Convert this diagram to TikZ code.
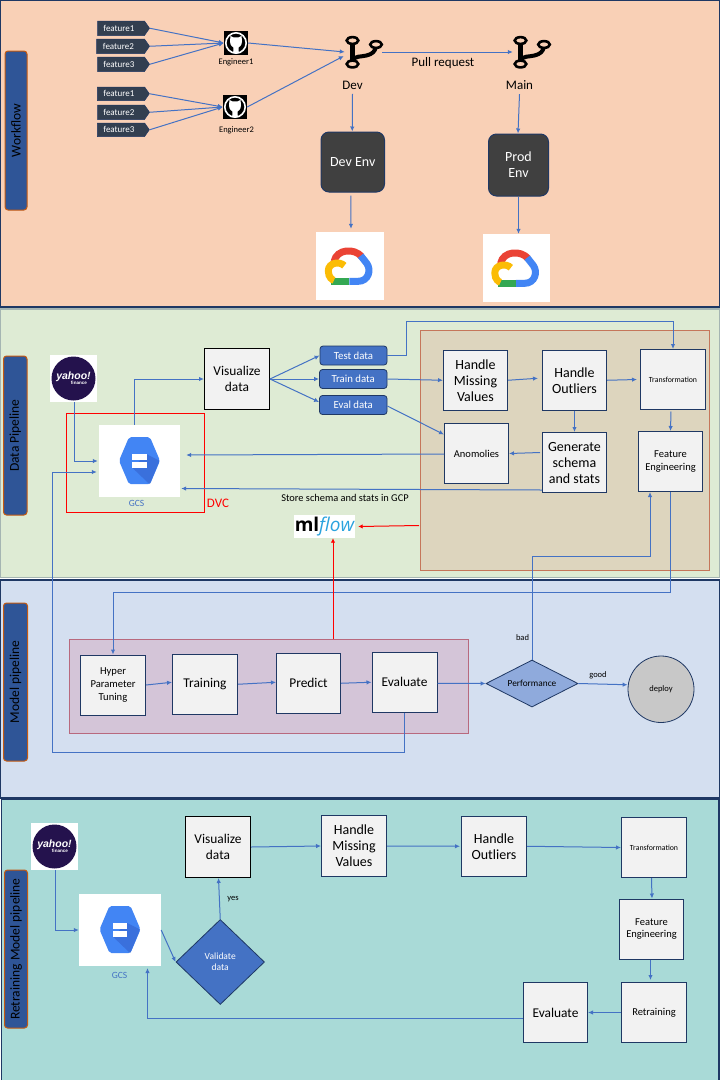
\documentclass[tikz,border=0pt]{standalone}
\usepackage{fontspec}
\setmainfont{Carlito}
\newfontfamily\ylogo{Liberation Sans}
\newfontfamily\mlfont{Open Sans}
\usetikzlibrary{arrows.meta,shapes.geometric,shapes.symbols}
\definecolor{navy}{HTML}{1F3864}
\definecolor{bandA}{HTML}{F9D0B6}
\definecolor{bandB}{HTML}{DEEBD4}
\definecolor{bandC}{HTML}{D4DFF0}
\definecolor{bandD}{HTML}{A9DAD7}
\definecolor{conc}{HTML}{4472C4}
\definecolor{sidef}{HTML}{2F5597}
\definecolor{sided}{HTML}{C55A11}
\definecolor{tagc}{HTML}{333F50}
\definecolor{dark}{HTML}{404040}
\definecolor{procf}{HTML}{F2F2F2}
\tikzset{
  ft/.style={font=\fontsize{#1}{12}\selectfont},
  band/.style={draw=navy,line width=1.2pt,inner sep=0pt},
  sidebar/.style={draw=sided,fill=sidef,line width=1pt,rounded corners=3pt,inner sep=0pt,text=black},
  tagbox/.style={signal,signal to=east,signal pointer angle=110,fill=tagc,draw=navy,line width=.5pt,inner sep=0pt,text=white,ft=9},
  icobox/.style={fill=black,inner sep=0pt,minimum size=24pt},
  whitebox/.style={fill=white,inner sep=0pt},
  hidden/.style={inner sep=0pt},
  envbox/.style={fill=dark,draw=navy,line width=1pt,rounded corners=8pt,inner sep=0pt,text=white,align=center,font=\fontsize{14}{16}\selectfont},
  proc/.style={fill=procf,draw=navy,line width=1pt,inner sep=0pt,align=center,text=black},
  procb/.style={proc,draw=black},
  big/.style={font=\fontsize{14}{16}\selectfont},
  bigb/.style={font=\fontsize{13.4}{16}\selectfont},
  mid/.style={font=\fontsize{10.5}{12.5}\selectfont},
  dataset/.style={fill=conc,draw=navy,line width=.8pt,rounded corners=3pt,inner sep=0pt,text=white,font=\fontsize{10.8}{12}\selectfont},
  lab/.style={inner sep=0pt,align=center,text=black},
  conn/.style={draw=conc,line width=1pt,-{Latex[length=5pt,width=4.5pt]}},
  redconn/.style={draw=red,line width=1pt,-{Latex[length=4.5pt,width=4.5pt]}},
}
\newcommand{\Bx}[7]{\node[#6,minimum width={(#4-#2)*1pt},minimum height={(#5-#3)*1pt}] (#1) at ({(#2+#4)/2},{(#3+#5)/2}) {#7};}
\newcommand{\Lb}[4]{\node[lab,#4] (#1) at (#2) {#3};}
\newcommand{\GHicon}[3]{%
  \node[icobox] (#1) at (#2,#3) {};
  \begin{scope}[shift={(#2,#3)}]
    \draw[white,line width=1.6pt] (0,0) circle[radius=10.2];
    \fill[white] (-5.5,-7) -- (-2.6,-5.6) -- (2.6,-5.6) -- (5.5,-7) -- (6,-2) .. controls (6,3) and (3,4) .. (2.6,4.5) -- (2.8,10) -- (-2.8,10) -- (-2.6,4.5) .. controls (-3,4) and (-6,3) .. (-6,-2) -- cycle;
  \end{scope}}
\newcommand{\BranchIcon}[3]{%
  \begin{scope}[shift={(#1,#2)}]
    \draw[black,line width=4.6pt] (0,3) -- (0,21);
    \draw[black,line width=4pt] (0,20) .. controls (3,15) and (8,16.5) .. (14,15) .. controls (20,13.5) and (22.5,11) .. (23.5,6);
    \draw[black,fill=#3,line width=2.6pt] (0,0) ellipse[x radius=5.8,y radius=3.4];
    \draw[black,fill=#3,line width=2.6pt] (0,23.5) ellipse[x radius=5.8,y radius=3.4];
    \draw[black,fill=#3,line width=2.6pt] (23.5,4) ellipse[x radius=5.8,y radius=3.4];
  \end{scope}}
\newcommand{\CloudIcon}[2]{%
  \begin{scope}[shift={(#1,#2)}]
    \draw[line width=7pt,color={rgb,255:red,234;green,67;blue,53}] (18,29.7) .. controls (20.7,16.3) and (39,16.3) .. (45.5,24.5);
    \draw[line width=7pt,color={rgb,255:red,66;green,133;blue,244}] (44.7,23.7) -- (50.7,31.3) .. controls (55.7,38) and (52.3,49.3) .. (42.3,49.3) -- (33.3,49.3);
    \draw[line width=7pt,color={rgb,255:red,52;green,168;blue,83}] (33.3,49.3) -- (15,49.3);
    \draw[line width=7pt,color={rgb,255:red,251;green,188;blue,5}] (28.3,33.7) .. controls (24,29) and (12.3,30.3) .. (12.3,39) .. controls (12.3,45.7) and (16.7,48) .. (18,48.3);
  \end{scope}}
\newcommand{\HexIcon}[2]{%
  \begin{scope}[shift={(#1,#2)}]
    \fill[color={rgb,255:red,66;green,133;blue,244},rounded corners=2pt] (-20.5,0) -- (-10.5,-23.5) -- (10.5,-23.5) -- (20.5,0) -- (10.5,23.5) -- (-10.5,23.5) -- cycle;
    \fill[color={rgb,255:red,58;green,112;blue,220}] (7.2,-6.5) -- (20,0) -- (10.5,23) -- (9.5,23) -- (-7.2,7) -- cycle;
    \fill[white] (-7.2,-6.5) rectangle (7.2,-0.8);
    \fill[white] (-7.2,1.2) rectangle (7.2,7);
  \end{scope}}
\begin{document}
\begin{tikzpicture}[x=1pt,y=-1pt]
\useasboundingbox (0,0) rectangle (720,1080);
\fill[white] (0,0) rectangle (720,1080);
% bands
\Bx{bandw}{0}{0.5}{720}{307}{band,fill=bandA}{}
\Bx{bandd}{0}{309}{720}{577.5}{band,fill=bandB,draw=bandB!70!navy}{}
\Bx{bandm}{0.7}{580}{720}{798}{band,fill=bandC}{}
\Bx{bandr}{1.5}{799}{719}{1082}{band,fill=bandD}{}
% side labels
\Bx{sa}{5}{51}{27}{210}{sidebar}{\rotatebox{90}{\fontsize{13.5}{16}\selectfont Workflow}}
\Bx{sb}{3.5}{356}{27}{515}{sidebar}{\rotatebox{90}{\fontsize{13.5}{16}\selectfont Data Pipeline}}
\Bx{sc}{3.5}{603}{27.5}{761}{sidebar}{\rotatebox{90}{\fontsize{13.5}{16}\selectfont Model pipeline}}
\Bx{sd}{4.5}{870}{27.5}{1028}{sidebar}{\rotatebox{90}{\fontsize{13.5}{16}\selectfont Retraining Model pipeline}}
% workflow
\Bx{fa}{95}{21}{147}{35.5}{tagbox}{feature1\hspace*{4pt}}
\Bx{fb}{94}{39}{147}{53.5}{tagbox}{feature2\hspace*{4pt}}
\Bx{fc}{95}{57}{147}{71.5}{tagbox}{feature3\hspace*{4pt}}
\Bx{fd}{95}{87}{147}{100.5}{tagbox}{feature1\hspace*{4pt}}
\Bx{fe}{95}{105}{147}{119.5}{tagbox}{feature2\hspace*{4pt}}
\Bx{ff}{95}{123}{147}{136.5}{tagbox}{feature3\hspace*{4pt}}
\GHicon{gha}{236}{43}
\GHicon{ghb}{235}{107}
\Lb{ea}{236,62}{Engineer1}{ft=8.5}
\Lb{eb}{236.5,130}{Engineer2}{ft=8.5}
\Bx{dev}{345}{36}{382}{68}{hidden}{}
\Bx{mainb}{513}{36}{550}{68}{hidden}{}
\BranchIcon{352.5}{40.5}{bandA}
\BranchIcon{520.5}{40.5}{bandA}
\Lb{devl}{352.5,85.5}{Dev}{ft=13}
\Lb{mainl}{519.5,85.5}{Main}{ft=13}
\Lb{prl}{443,63.5}{Pull request}{ft=13}
\Bx{devenv}{321}{132}{384.5}{192}{envbox}{Dev Env}
\Bx{prodenv}{488.5}{134}{548.5}{196}{envbox}{Prod\\Env}
\Bx{cla}{316}{232}{384}{300}{whitebox}{}
\Bx{clb}{483}{234}{550}{302}{whitebox}{}
\CloudIcon{316}{232}
\CloudIcon{482.5}{234}
\draw[conn] (fa.east) -- (gha.west);
\draw[conn] (fb.east) -- (gha.west);
\draw[conn] (fc.east) -- (gha.west);
\draw[conn] (fd.east) -- (ghb.west);
\draw[conn] (fe.east) -- (ghb.west);
\draw[conn] (ff.east) -- (ghb.west);
\draw[conn] (gha.east) -- (dev.west);
\draw[conn] (ghb.east) -- ([xshift=-1pt,yshift=-4pt]dev.west);
\draw[conn] (dev.east) -- (mainb.west);
\draw[conn] ([yshift=-4pt]devl.south) -- ([xshift=-.5pt]devenv.north);
\draw[conn] ([xshift=-2pt,yshift=-3pt]devenv.south) -- ([xshift=1pt,yshift=3pt]cla.north);
\draw[conn] ([yshift=-4pt]mainl.south) -- ([xshift=-.5pt]prodenv.north);
\draw[conn] ([xshift=0pt]prodenv.south) -- ([xshift=2pt]clb.north);
% data pipeline
\Bx{brown}{420}{330.5}{709.5}{570.5}{draw={rgb,255:red,197;green,118;blue,90},fill={rgb,255:red,221;green,213;blue,190},line width=1pt}{}
\Bx{yfa}{50}{355}{97}{402}{whitebox}{}
\fill[color={rgb,255:red,36;green,18;blue,77}] (73.5,378.5) circle[radius=22];
\Lb{yta}{73.5,376.5}{\ylogo\bfseries\itshape yahoo!}{text=white,ft=10.5}
\Lb{ytb}{79,383}{\ylogo\bfseries finance}{text=white,ft=4.6}
\Bx{dvcbox}{66.5}{413.5}{204}{512.5}{draw=red,line width=1pt}{}
\Bx{gcs}{99}{425}{180}{497}{whitebox}{}
\HexIcon{139.5}{460.7}
\Lb{gcsl}{136.5,503.5}{GCS}{text=conc,ft=9.5}
\Lb{dvcl}{218,503.5}{DVC}{text=red,ft=13}
\Bx{vis}{204.5}{348.5}{269.5}{409.5}{procb,bigb}{Visualize\\data}
\Bx{test}{320}{346}{387}{365}{dataset}{Test data}
\Bx{train}{319.5}{369.5}{387}{388.5}{dataset}{Train data}
\Bx{eval}{319.5}{395.5}{387}{414.5}{dataset}{Eval data}
\Bx{hm}{443.5}{350.5}{507.5}{410}{proc,big}{Handle\\Missing\\Values}
\Bx{ho}{542.5}{350.5}{606.5}{410}{proc,big}{Handle\\Outliers}
\Bx{trf}{640.5}{349.5}{705.5}{409.5}{proc,ft=7.8}{Transformation}
\Bx{ano}{444.5}{423.5}{508.5}{483.5}{proc,ft=10.5}{Anomolies}
\Bx{gen}{542.5}{432.5}{606.5}{492.5}{proc,big}{Generate\\schema\\and stats}
\Bx{feng}{638.5}{431.5}{702.5}{491.5}{proc,mid}{Feature\\Engineering}
\Lb{storel}{345,497.5}{Store schema and stats in GCP}{ft=10.4}
\Bx{ml}{294}{515}{355}{538}{whitebox}{\mlfont\fontsize{19}{22}\selectfont\textbf{ml}\textcolor[HTML]{2BA3DE}{\itshape flow}}
% model pipeline
\Bx{rose}{69}{639}{468.5}{733.5}{draw={rgb,255:red,184;green,105;blue,126},fill={rgb,255:red,212;green,197;blue,216},line width=1pt}{}
\Bx{hyper}{80.5}{655}{145.5}{715}{proc,font=\fontsize{10.6}{12.5}\selectfont}{Hyper\\Parameter\\Tuning}
\Bx{trn}{172.5}{654}{237.5}{714.5}{proc,bigb}{Training}
\Bx{pred}{276.5}{653}{340.5}{713.5}{proc,bigb}{Predict}
\Bx{ev}{372}{652}{437}{712.5}{proc,bigb}{Evaluate}
\Bx{perf}{486}{660}{578}{707}{diamond,aspect=1.96,fill={rgb,255:red,143;green,170;blue,220},draw=navy,line width=.8pt,inner sep=0pt,ft=9.3}{Performance}
\Bx{deploy}{628}{656}{694}{722.5}{ellipse,fill={rgb,255:red,200;green,200;blue,200},draw=navy,line width=.8pt,inner sep=0pt,ft=8.5}{deploy}
\Lb{badl}{522.5,638}{bad}{ft=8.5}
\Lb{goodl}{598,675.5}{good}{ft=8.5}
% retraining
\Bx{yfb}{31}{823}{78}{870}{whitebox}{}
\fill[color={rgb,255:red,36;green,18;blue,77}] (54.5,846.5) circle[radius=22];
\Lb{ytc}{54.5,844.5}{\ylogo\bfseries\itshape yahoo!}{text=white,ft=10.5}
\Lb{ytd}{60,851}{\ylogo\bfseries finance}{text=white,ft=4.6}
\Bx{gcsr}{79}{894}{161}{966}{whitebox}{}
\HexIcon{120}{929.5}
\Lb{gcsrl}{119.5,975.5}{GCS}{text=conc,ft=9.5}
\Bx{valid}{176}{919.5}{264.5}{1004.5}{diamond,aspect=1.04,fill=conc,draw=navy,line width=.8pt,inner sep=0pt,text=white,align=center,font=\fontsize{9.5}{11}\selectfont}{Validate\\data}
\Bx{visr}{185.5}{816.5}{250.5}{877.5}{procb,bigb}{Visualize\\data}
\Bx{hmr}{321.5}{815.5}{386.5}{876.5}{proc,big}{Handle\\Missing\\Values}
\Bx{hor}{461.5}{816}{526.5}{876.5}{proc,big}{Handle\\Outliers}
\Bx{trfr}{621.5}{817.5}{686.5}{877.5}{proc,ft=7.8}{Transformation}
\Bx{fengr}{619.5}{899}{683.5}{959}{proc,mid}{Feature\\Engineering}
\Bx{ret}{621.5}{982.5}{686.5}{1042.5}{proc,ft=10.5}{Retraining}
\Bx{evr}{523.5}{982.5}{587.5}{1042.5}{proc,bigb}{Evaluate}
\Lb{yesl}{233,899.5}{yes}{ft=8.5}
% helper points
\coordinate (fbA) at (52.5,752);
\coordinate (trA) at (406.5,321.5);
\coordinate (hpA) at (113,592.5);
\coordinate (bdA) at (650,556);
\coordinate (rpA) at (333,639);
\coordinate (rbA) at (419,525.5);
\coordinate (evA) at (522.5,1018.5);
\coordinate (gcA) at (147.5,968);
% data pipeline connectors
\draw[conn] ([xshift=.5pt]yfa.south) |- ([xshift=-1pt]gcs.west);
\draw[conn] ([xshift=-5pt]gcs.north) |- (vis.west);
\draw[conn] (vis.east) -- (test.west);
\draw[conn] (vis.east) -- (train.west);
\draw[conn] (vis.east) -- ([yshift=3pt]eval.west);
\draw[conn] (test.east) -| (trA) -| (trf.north);
\draw[conn] (train.east) -- (hm.west);
\draw[conn] (hm.east) -- ([xshift=-4pt,yshift=2pt]ho.west);
\draw[conn] (ho.east) -- ([xshift=-3pt]trf.west);
\draw[conn] (ho.south) -- (gen.north);
\draw[conn] ([yshift=-1pt]eval.east) -- ([yshift=19pt]ano.west);
\draw[conn] ([xshift=-2pt,yshift=10pt]gen.west) -- (ano.east);
\draw[conn] ([yshift=-.5pt]ano.west) -- ([xshift=6pt,yshift=6pt]gcs.east);
\draw[conn] ([yshift=-27.5pt]gen.west) -- ([xshift=1pt,yshift=-27.5pt]gcs.east);
\draw[conn] ([xshift=-2pt,yshift=-1.5pt]trf.south) -- (feng.north);
\draw[conn] (ev.south) |- (fbA) |- ([xshift=-2pt,yshift=-11pt]gcs.west);
\draw[conn] (feng.south) |- (hpA) -- (hyper.north);
\draw[conn] (perf.north) |- (bdA) -- ([xshift=-20.5pt]feng.south);
\draw[redconn] (rpA) -- ([xshift=8.5pt]ml.south);
\draw[redconn] (rbA) -- ([xshift=3pt]ml.east);
% model connectors
\draw[conn] (hyper.east) -- ([yshift=2pt]trn.west);
\draw[conn] (trn.east) -- ([yshift=1pt]pred.west);
\draw[conn] (pred.east) -- (ev.west);
\draw[conn] ([yshift=-1pt]ev.east) -- (perf.west);
\draw[conn] (perf.east) -- ([yshift=4.5pt]deploy.west);
% retraining connectors
\draw[conn] ([xshift=1pt]yfb.south) |- (gcsr.west);
\draw[conn] (gcsr.east) -- (valid.west);
\draw[conn] (valid.north) -- ([xshift=.5pt]visr.south);
\draw[conn] (visr.east) -- (hmr.west);
\draw[conn] (hmr.east) -- ([xshift=-1pt]hor.west);
\draw[conn] (hor.east) -- (trfr.west);
\draw[conn] ([xshift=-2.5pt]trfr.south) -- ([xshift=.5pt]fengr.north);
\draw[conn] ([xshift=-1pt]fengr.south) -- ([xshift=-3.5pt,yshift=2pt]ret.north);
\draw[conn] (ret.west) -- (evr.east);
\draw[conn] (evA) -| (gcA);
\end{tikzpicture}
\end{document}
